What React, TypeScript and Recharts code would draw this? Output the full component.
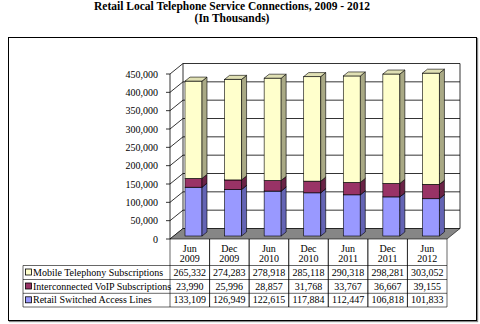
import React from "react";
import { BarChart, Bar, XAxis, YAxis, CartesianGrid, ReferenceArea } from "recharts";

const months = ["Jun", "Dec", "Jun", "Dec", "Jun", "Dec", "Jun"];
const years = ["2009", "2009", "2010", "2010", "2011", "2011", "2012"];
const mobile = [265332, 274283, 278918, 285118, 290318, 298281, 303052];
const voip = [23990, 25996, 28857, 31768, 33767, 36667, 39155];
const retail = [133109, 126949, 122615, 117884, 112447, 106818, 101833];
const yTicks = [0, 50000, 100000, 150000, 200000, 250000, 300000, 350000, 400000, 450000];
const seriesNames = [
  "Mobile Telephony Subscriptions",
  "Interconnected VoIP Subscriptions",
  "Retail Switched Access Lines",
];

const data = months.map((m, i) => ({
  cat: m + " " + years[i],
  month: m,
  year: years[i],
  mobile: mobile[i],
  voip: voip[i],
  retail: retail[i],
}));

const tableRows = [
  { key: "mobile", values: mobile, front: "#FFFFCC" },
  { key: "voip", values: voip, front: "#993366" },
  { key: "retail", values: retail, front: "#9999FF" },
];

const FONT = "Liberation Serif, Times New Roman, serif";
const DX = 13; // depth offset of back wall
const DY = 10.5;
const BDX = 4; // bar offset (mid-depth)
const BDY = 3;
const BD = 5; // bar side depth
const BV = 4;

const PLOT_BOTTOM = 239;
const ROW_TOP = [265.5, 279.5, 293.3];
const ROW_BOTTOM = 307;
const fmt = (v: number) => v.toLocaleString("en-US");

const makeBar = (front: string, side: string, top: string) => (props: any) => {
  const { x, y, width, height } = props;
  if (width == null || height == null || height <= 0) return <g />;
  const fx = x + BDX;
  const fy = y - BDY;
  const sw = 0.6;
  return (
    <g>
      <rect x={fx} y={fy} width={width} height={height} fill={front} stroke="#000" strokeWidth={sw} />
      <polygon
        points={`${fx + width},${fy} ${fx + width + BD},${fy - BV} ${fx + width + BD},${fy + height - BV} ${fx + width},${fy + height}`}
        fill={side}
        stroke="#000"
        strokeWidth={sw}
      />
      <polygon
        points={`${fx},${fy} ${fx + BD},${fy - BV} ${fx + width + BD},${fy - BV} ${fx + width},${fy}`}
        fill={top}
        stroke="#000"
        strokeWidth={sw}
      />
    </g>
  );
};

const GridLine = (props: any) => {
  const { x1, y1, x2, y2 } = props;
  return (
    <g>
      <line x1={x1 + DX} y1={y1 - DY} x2={x2 + DX} y2={y2 - DY} stroke="#000" strokeWidth={0.8} />
      <line x1={x1} y1={y1} x2={x1 + DX} y2={y1 - DY} stroke="#000" strokeWidth={0.8} />
    </g>
  );
};

const Walls = (props: any) => {
  const { x, y, width, height } = props;
  const b = y + height;
  return (
    <g>
      <line x1={x + DX} y1={y - DY} x2={x + DX} y2={b - DY} stroke="#000" strokeWidth={0.8} />
      <line x1={x + width + DX} y1={y - DY} x2={x + width + DX} y2={b - DY} stroke="#000" strokeWidth={0.8} />
      <polygon
        points={`${x},${b} ${x + width},${b} ${x + width + DX},${b - DY} ${x + DX},${b - DY}`}
        fill="#868686"
        stroke="#000"
        strokeWidth={0.6}
      />
    </g>
  );
};

const COLW = 277 / 7;

const TableTick = (props: any) => {
  const { x, payload } = props;
  const i = payload.index;
  const l = x - COLW / 2;
  const r = x + COLW / 2;
  const d = data[i];
  return (
    <g fontFamily={FONT} fontSize={10} fill="#000">
      <line x1={l} y1={PLOT_BOTTOM} x2={l} y2={ROW_BOTTOM} stroke="#000" strokeWidth={0.6} />
      <line x1={r} y1={PLOT_BOTTOM} x2={r} y2={ROW_BOTTOM} stroke="#000" strokeWidth={0.6} />
      {ROW_TOP.map((ry, k) => (
        <line key={k} x1={l} y1={ry} x2={r} y2={ry} stroke="#000" strokeWidth={0.6} />
      ))}
      <line x1={l} y1={ROW_BOTTOM} x2={r} y2={ROW_BOTTOM} stroke="#000" strokeWidth={0.6} />
      <text x={x} y={251.5} textAnchor="middle" fill="#000" fontFamily={FONT}>{d.month}</text>
      <text x={x} y={262} textAnchor="middle" fill="#000" fontFamily={FONT}>{d.year}</text>
      {tableRows.map((row, k) => (
        <text key={row.key} x={x} y={ROW_TOP[k] + 10} textAnchor="middle" fill="#000" fontFamily={FONT}>
          {fmt(row.values[i])}
        </text>
      ))}
    </g>
  );
};

export default function App() {
  return (
    <div style={{ position: "relative", width: 480, height: 324, background: "#fff", overflow: "hidden" }}>
      <style>{"body{margin:0}"}</style>
      <div
        style={{
          position: "absolute",
          left: 0,
          top: 0,
          width: 464,
          textAlign: "center",
          fontFamily: FONT,
          fontWeight: "bold",
          fontSize: 11.5,
          lineHeight: "12px",
          color: "#000",
        }}
      >
        <div>Retail Local Telephone Service Connections, 2009 - 2012</div>
        <div>(In Thousands)</div>
      </div>
      <div
        style={{
          position: "absolute",
          left: 8,
          top: 37,
          width: 467,
          height: 282,
          border: "1.5px solid #000",
          boxShadow: "1px 1px 1px #888",
        }}
      />
      <div style={{ position: "absolute", left: 0, top: 0 }}>
        <BarChart
          width={480}
          height={324}
          data={data}
          margin={{ top: 74, right: 33, bottom: 0, left: 110 }}
          barSize={17}
        >
          <CartesianGrid vertical={false} horizontal={(p: any) => <GridLine key={p.key} {...p} />} />
          <ReferenceArea y1={0} y2={450000} shape={(p: any) => <Walls {...p} />} fill="none" stroke="none" />
          <XAxis
            dataKey="cat"
            tickLine={false}
            axisLine={false}
            height={85}
            interval={0}
            tick={(p: any) => <TableTick {...p} />}
          />
          <YAxis
            width={60}
            domain={[0, 450000]}
            ticks={yTicks}
            interval={0}
            tickFormatter={fmt}
            tickSize={4}
            tickMargin={8}
            tickLine={{ stroke: "#000", strokeWidth: 0.8 }}
            axisLine={{ stroke: "#000", strokeWidth: 0.8 }}
            tick={{ fill: "#000", fontFamily: FONT, fontSize: 10 }}
          />
          <Bar dataKey="retail" stackId="a" isAnimationActive={false} shape={makeBar("#9999FF", "#6464B4", "#B8B8FF")} />
          <Bar dataKey="voip" stackId="a" isAnimationActive={false} shape={makeBar("#993366", "#6A2346", "#B45A85")} />
          <Bar dataKey="mobile" stackId="a" isAnimationActive={false} shape={makeBar("#FFFFCC", "#A9A985", "#E0E0B4")} />
        </BarChart>
      </div>
      <div style={{ position: "absolute", left: 0, top: 0, width: 480, height: 324, pointerEvents: "none" }}>
        <svg width={480} height={324}>
          <g fontFamily={FONT} fontSize={10}>
            <line x1={23} y1={ROW_TOP[0]} x2={170} y2={ROW_TOP[0]} stroke="#000" strokeWidth={0.6} />
            <line x1={23} y1={ROW_TOP[1]} x2={170} y2={ROW_TOP[1]} stroke="#000" strokeWidth={0.6} />
            <line x1={23} y1={ROW_TOP[2]} x2={170} y2={ROW_TOP[2]} stroke="#000" strokeWidth={0.6} />
            <line x1={23} y1={ROW_BOTTOM} x2={170} y2={ROW_BOTTOM} stroke="#000" strokeWidth={0.6} />
            <line x1={23} y1={ROW_TOP[0]} x2={23} y2={ROW_BOTTOM} stroke="#000" strokeWidth={0.6} />
            {tableRows.map((row, k) => (
              <g key={row.key}>
                <rect x={25.5} y={ROW_TOP[k] + 3.5} width={6} height={6} fill={row.front} stroke="#000" strokeWidth={0.8} />
                <text x={33} y={ROW_TOP[k] + 10} fill="#000" fontFamily={FONT}>{seriesNames[k]}</text>
              </g>
            ))}
          </g>
        </svg>
      </div>
    </div>
  );
}
